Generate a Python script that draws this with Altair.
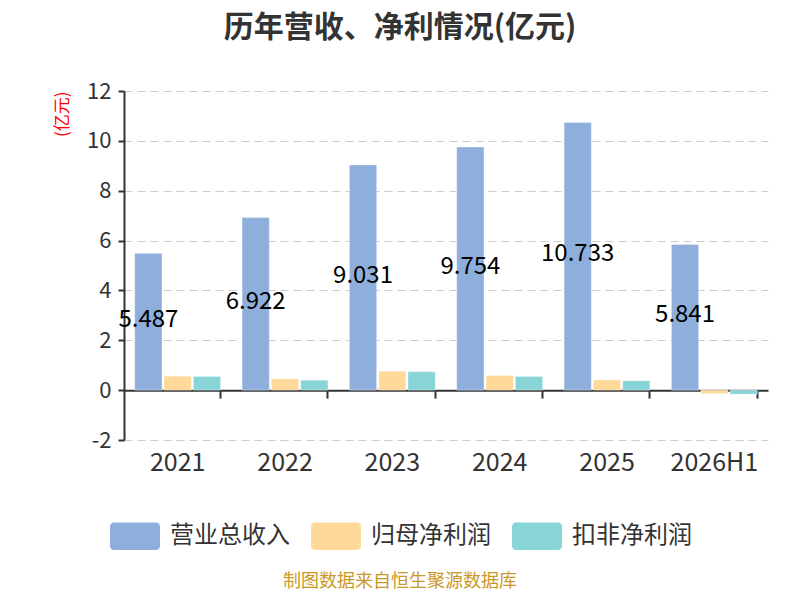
import altair as alt
import pandas as pd

years = ["2021", "2022", "2023", "2024", "2025", "2026H1"]
series = ["营业总收入", "归母净利润", "扣非净利润"]
revenue = [5.487, 6.922, 9.031, 9.754, 10.733, 5.841]
net_profit = [0.56, 0.45, 0.76, 0.59, 0.41, -0.14]
deducted_profit = [0.55, 0.40, 0.74, 0.55, 0.38, -0.16]
colors = ["#8eaedb", "#fed999", "#88d5d8"]
y_ticks = [-2, 0, 2, 4, 6, 8, 10, 12]
title_text = "历年营收、净利情况(亿元)"
y_title = "(亿元)"
source_text = "制图数据来自恒生聚源数据库"

rows = []
for i, yr in enumerate(years):
    for s, vals in zip(series, [revenue, net_profit, deducted_profit]):
        rows.append({"year": yr, "series": s, "value": vals[i]})
df = pd.DataFrame(rows)
src = pd.DataFrame({"t": [source_text]})

W, H = 644, 349
y_min, y_max = y_ticks[0], y_ticks[-1]
zero_offset = -H * (0 - y_min) / (y_max - y_min)

FONT = "Microsoft YaHei, Noto Sans CJK SC, sans-serif"

x_scale = alt.Scale(domain=years, paddingInner=0.2, paddingOuter=0.1)
xo_scale = alt.Scale(domain=series, paddingInner=0.07, paddingOuter=0)
y_scale = alt.Scale(domain=[y_min, y_max], nice=False, zero=False)

legend_path = ("M-0.84,-0.55 H0.84 A0.16,0.16 0 0 1 1,-0.39 V0.39 "
               "A0.16,0.16 0 0 1 0.84,0.55 H-0.84 A0.16,0.16 0 0 1 -1,0.39 "
               "V-0.39 A0.16,0.16 0 0 1 -0.84,-0.55 Z")

bars = alt.Chart(df).mark_bar(stroke="#ffffff", strokeWidth=0.6, strokeOpacity=0.6).encode(
    x=alt.X("year:N", scale=x_scale, sort=years,
            axis=alt.Axis(orient="bottom", title=None, domain=False, ticks=False,
                          labelFontSize=25, labelColor="#333", labelFont=FONT,
                          labelPadding=10, labelAngle=0, grid=False)),
    xOffset=alt.XOffset("series:N", scale=xo_scale, sort=series),
    y=alt.Y("value:Q", scale=y_scale,
            axis=alt.Axis(values=y_ticks, title=y_title, titleColor="red",
                          titleFontSize=17, titleFontWeight="normal", titleFont=FONT,
                          titleAngle=-90, titleX=-62, titleY=0, titleAlign="right",
                          titleBaseline="middle",
                          labelExpr="'' + datum.value",
                          labelFontSize=22, labelColor="#333", labelFont=FONT,
                          labelPadding=7, tickSize=6, tickWidth=2, tickColor="#333",
                          domainColor="#333", domainWidth=2,
                          grid=True, gridColor="#cccccc", gridDash=[8, 5],
                          gridWidth=1.2)),
    color=alt.Color("series:N", scale=alt.Scale(domain=series, range=colors),
                    sort=series,
                    legend=alt.Legend(orient="none", legendX=-14, legendY=420,
                                      direction="horizontal", title=None,
                                      symbolType=legend_path, symbolSize=2500,
                                      symbolStrokeWidth=0, symbolOpacity=1,
                                      labelFontSize=24, labelColor="#333",
                                      labelFont=FONT, labelOffset=10,
                                      columnPadding=21, labelLimit=300)),
)

labels = alt.Chart(df).transform_filter(
    alt.datum.series == series[0]
).transform_calculate(
    mid="datum.value / 2"
).mark_text(fontSize=24, color="black", font=FONT, baseline="middle", dy=-2).encode(
    x=alt.X("year:N", scale=x_scale, sort=years,
            axis=alt.Axis(orient="bottom", title=None, labels=False, grid=False,
                          offset=zero_offset, bandPosition=1, tickSize=8,
                          tickWidth=2, tickColor="#333", domainColor="#333",
                          domainWidth=2)),
    xOffset=alt.XOffset("series:N", scale=xo_scale, sort=series),
    y=alt.Y("mid:Q", scale=y_scale),
    text=alt.Text("value:Q", format=".3f"),
)

source = alt.Chart(src).mark_text(
    fontSize=18, color="#c9982a", font=FONT, baseline="middle", align="center"
).encode(
    x=alt.value(400 - 124), y=alt.value(582 - 91), text="t:N"
)

chart = alt.layer(bars, labels, source).resolve_axis(x="independent").properties(
    width=W, height=H,
    autosize=alt.AutoSizeParams(type="none"),
    padding={"left": 116, "top": 83, "right": 24, "bottom": 152},
    title=alt.TitleParams(title_text, fontSize=30, fontWeight="bold", color="#333",
                          font=FONT, anchor="middle", frame="group", dx=-46,
                          offset=37),
).configure_view(stroke=None)

chart.save("out.html", embed_options={"renderer": "svg", "actions": False})
